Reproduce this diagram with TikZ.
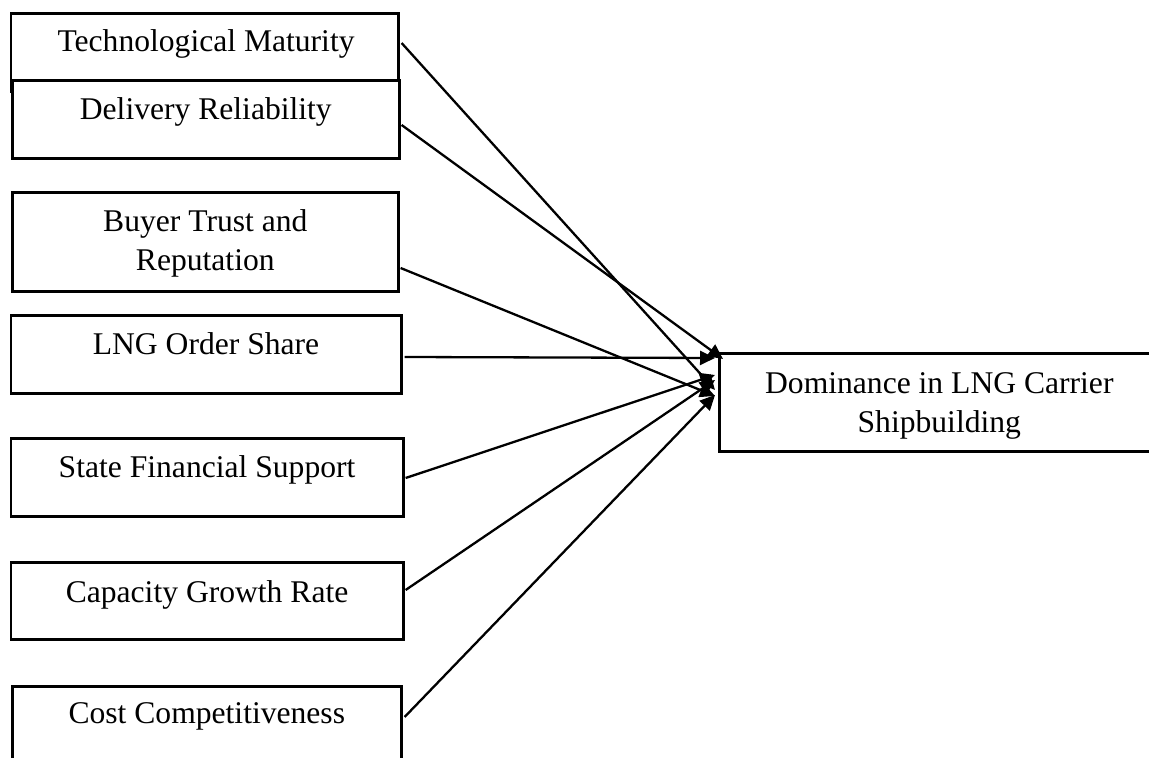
\documentclass[tikz,border=0pt]{standalone}
\usepackage{fontspec}
\setmainfont{Liberation Serif}
\usetikzlibrary{arrows.meta}
\begin{document}
\begin{tikzpicture}[x=0.5pt,y=-0.5pt,
  box/.style={draw, line width=1.3pt, fill=white, inner sep=0pt, anchor=north west},
  lbl/.style={font=\fontsize{15.8}{19.5}\selectfont, align=center, inner sep=0pt, anchor=base},
  link/.style={line width=1.15pt, -{Triangle[length=7.5pt,width=7pt]}}]
\clip (0,0) rectangle (1149,758);
\fill[white] (0,0) rectangle (1149,758);

% factor boxes (left column); two-line labels are placed by their last baseline
\node[box, minimum width=193.75pt, minimum height=38.75pt] (b1) at (9.5,12.5) {};
\node[lbl] (t1) at ([shift={(1.5,39)}]b1.north) {Technological Maturity};
\node[box, minimum width=193.5pt, minimum height=39pt] (b2) at (11,79) {};
\node[lbl] (t2) at ([shift={(0,41)}]b2.north) {Delivery Reliability};
\node[box, minimum width=193pt, minimum height=49.5pt] (b3) at (11,191) {};
\node[lbl] (t3) at ([shift={(0,80)}]b3.north) {Buyer Trust and\\Reputation};
\node[box, minimum width=195.25pt, minimum height=39pt] (b4) at (9.5,314) {};
\node[lbl] (t4) at ([shift={(0,41)}]b4.north) {LNG Order Share};
\node[box, minimum width=196.25pt, minimum height=39pt] (b5) at (9.5,437) {};
\node[lbl] (t5) at ([shift={(0,40)}]b5.north) {State Financial Support};
\node[box, minimum width=196.25pt, minimum height=38.5pt] (b6) at (9.5,561) {};
\node[lbl] (t6) at ([shift={(0,41)}]b6.north) {Capacity Growth Rate};
\node[box, minimum width=194.5pt, minimum height=39pt] (b7) at (11,685) {};
\node[lbl] (t7) at ([shift={(0,38)}]b7.north) {Cost Competitiveness};

% outcome box
\node[box, minimum width=220pt, minimum height=49pt] (tg) at (718,352) {};
\node[lbl] (tt) at ([shift={(0,80)}]tg.north) {Dominance in LNG Carrier\\Shipbuilding};

% influence arrows
\draw[link] ([shift={(2,30.5)}]b1.north east) -- ([shift={(-3,38)}]tg.north west);
\draw[link] ([shift={(1,46)}]b2.north east) -- ([shift={(5,7)}]tg.north west);
\draw[link] ([shift={(1,77)}]b3.north east) -- ([shift={(-3,44)}]tg.north west);
\draw[link] ([shift={(2,43)}]b4.north east) -- ([shift={(-3,6)}]tg.north west);
\draw[link] ([shift={(1,41)}]b5.north east) -- ([shift={(-3,23)}]tg.north west);
\draw[link] ([shift={(1,29)}]b6.north east) -- ([shift={(-3,28)}]tg.north west);
\draw[link] ([shift={(2,32)}]b7.north east) -- ([shift={(-3,43)}]tg.north west);
\end{tikzpicture}
\end{document}
